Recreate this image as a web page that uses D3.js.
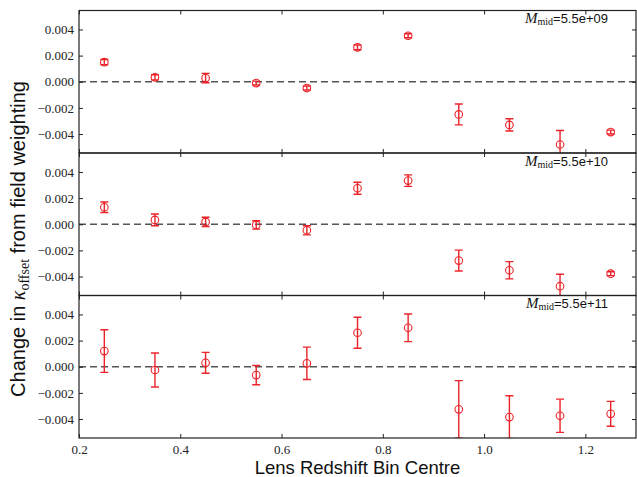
<!DOCTYPE html>
<html><head><meta charset="utf-8">
<script src="https://cdn.jsdelivr.net/npm/d3@7"></script>
<style>
html,body{margin:0;padding:0;background:#fff;}
svg{display:block;}
</style></head>
<body>
<svg id="chart" width="637" height="477"></svg>
<script>
// ---- data ----
const zCentres = [0.25, 0.35, 0.45, 0.55, 0.65, 0.75, 0.85, 0.95, 1.05, 1.15, 1.25];
const massLabels = ["5.5e+09", "5.5e+10", "5.5e+11"];
const valsLow  = [0.00150, 0.00034, 0.00028, -0.00010, -0.00048, 0.00263, 0.00352, -0.00250, -0.00330, -0.00480, -0.00385];
const errLow   = [0.00020, 0.00020, 0.00036, 0.00015, 0.00015, 0.00018, 0.00015, 0.00080, 0.00047, 0.00107, 0.00015];
const valsMid  = [0.00130, 0.00033, 0.00018, -0.00005, -0.00046, 0.00275, 0.00334, -0.00278, -0.00352, -0.00474, -0.00378];
const errMid   = [0.00040, 0.00045, 0.00035, 0.00032, 0.00035, 0.00046, 0.00044, 0.00080, 0.00066, 0.00091, 0.00015];
const valsHigh = [0.00120, -0.00025, 0.00030, -0.00064, 0.00026, 0.00260, 0.00298, -0.00326, -0.00385, -0.00375, -0.00360];
const errHigh  = [0.00163, 0.00130, 0.00080, 0.00074, 0.00124, 0.00119, 0.00106, 0.00220, 0.00163, 0.00127, 0.00095];
const xTicks = [0.2, 0.4, 0.6, 0.8, 1.0, 1.2];
const yTicks = [-0.004, -0.002, 0.000, 0.002, 0.004];
const xLabel = "Lens Redshift Bin Centre";

const panels = [
  {vals: valsLow, errs: errLow, mass: massLabels[0]},
  {vals: valsMid, errs: errMid, mass: massLabels[1]},
  {vals: valsHigh, errs: errHigh, mass: massLabels[2]}
];

// ---- layout ----
const left = 79, right = 636, top0 = 10.5, ph = 142.5;
const red = "#ec2329";
const svg = d3.select("#chart");
const x = d3.scaleLinear().domain([0.2, 1.3]).range([left, right]);
const fmtY = d3.format(".3f");
const fmtX = d3.format(".1f");

panels.forEach((p, i) => {
  const top = top0 + i * ph, bot = top + ph;
  const y = d3.scaleLinear().domain([-0.00545, 0.00545]).range([bot, top]);
  const g = svg.append("g");
  const cid = "clip" + i;
  svg.append("clipPath").attr("id", cid).append("rect")
    .attr("x", left).attr("y", top).attr("width", right - left).attr("height", ph);
  const plot = g.append("g").attr("clip-path", `url(#${cid})`);

  // zero line
  plot.append("line").attr("x1", left).attr("x2", right)
    .attr("y1", y(0)).attr("y2", y(0))
    .attr("stroke", "#555").attr("stroke-width", 1.4).attr("stroke-dasharray", "7,4");

  const data = zCentres.map((z, k) => ({z, v: p.vals[k], e: p.errs[k]}));
  const eb = plot.selectAll(".eb").data(data).enter().append("g");
  eb.append("line").attr("x1", d => x(d.z)).attr("x2", d => x(d.z))
    .attr("y1", d => y(d.v - d.e)).attr("y2", d => y(d.v + d.e))
    .attr("stroke", red).attr("stroke-width", 1.4);
  [-1, 1].forEach(s => {
    eb.append("line").attr("x1", d => x(d.z) - 4).attr("x2", d => x(d.z) + 4)
      .attr("y1", d => y(d.v + s * d.e)).attr("y2", d => y(d.v + s * d.e))
      .attr("stroke", red).attr("stroke-width", 1.4);
  });
  eb.append("circle").attr("cx", d => x(d.z)).attr("cy", d => y(d.v)).attr("r", 3.8)
    .attr("fill", "none").attr("stroke", red).attr("stroke-width", 1.1);

  // axes
  const ay = g.append("g").attr("transform", `translate(${left},0)`)
    .call(d3.axisLeft(y).tickValues(yTicks).tickFormat(fmtY).tickSize(-4).tickPadding(5));
  const ayr = g.append("g").attr("transform", `translate(${right},0)`)
    .call(d3.axisRight(y).tickValues(yTicks).tickFormat("").tickSize(-4));
  const axt = g.append("g").attr("transform", `translate(0,${top})`)
    .call(d3.axisTop(x).tickValues(xTicks).tickFormat("").tickSize(-4));
  const axb = g.append("g").attr("transform", `translate(0,${bot})`)
    .call(d3.axisBottom(x).tickValues(xTicks).tickFormat(i === 2 ? fmtX : "").tickSize(-4).tickPadding(7));
  [ay, ayr, axt, axb].forEach(a => {
    a.select(".domain").remove();
    a.selectAll(".tick line").attr("stroke", "#222").attr("stroke-width", 1);
    a.selectAll(".tick text").attr("fill", "#222")
      .style("font-family", "'Liberation Serif', serif").style("font-size", "13px");
  });

  // frame
  g.append("rect").attr("x", left).attr("y", top).attr("width", right - left).attr("height", ph)
    .attr("fill", "none").attr("stroke", "#222").attr("stroke-width", 1.2);

  // annotation
  const t = g.append("text").attr("x", 608).attr("y", top + 12.5).attr("text-anchor", "end")
    .attr("fill", "#111");
  t.append("tspan").text("M").style("font-family", "'Liberation Serif', serif")
    .style("font-style", "italic").style("font-size", "15px");
  t.append("tspan").text("mid").attr("dy", 2).style("font-family", "'Liberation Serif', serif")
    .style("font-size", "10px");
  t.append("tspan").text("=" + p.mass).attr("dy", -2).style("font-family", "'Liberation Sans', Arial, sans-serif")
    .style("font-size", "13px");
});

// x label
svg.append("text").attr("x", (left + right) / 2).attr("y", 474).attr("text-anchor", "middle")
  .style("font-family", "'Liberation Sans', Arial, sans-serif").style("font-size", "18.5px")
  .attr("fill", "#111").text(xLabel);

// y label
const yl = svg.append("text").attr("transform", "translate(25,239) rotate(-90)")
  .attr("text-anchor", "middle").attr("fill", "#111")
  .style("font-family", "'Liberation Sans', Arial, sans-serif").style("font-size", "20px");
yl.append("tspan").text("Change in ");
yl.append("tspan").text("κ").style("font-family", "'Liberation Serif', serif").style("font-style", "italic");
yl.append("tspan").text("offset").attr("dy", 4).style("font-family", "'Liberation Serif', serif").style("font-size", "14px");
yl.append("tspan").text(" from field weighting").attr("dy", -4);
</script>
</body></html>
